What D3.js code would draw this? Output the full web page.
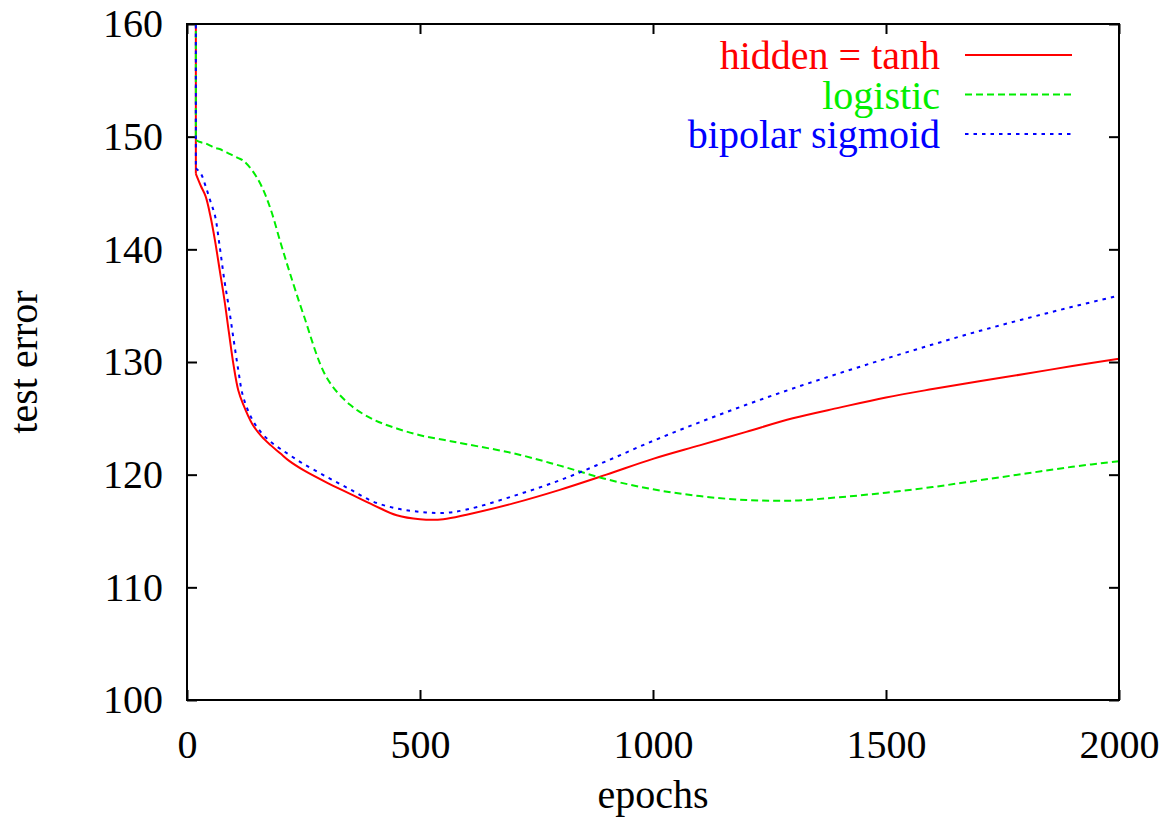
<!DOCTYPE html>
<html>
<head>
<meta charset="utf-8">
<script src="https://cdn.jsdelivr.net/npm/d3@7"></script>
<style>
  body { margin: 0; background: #fff; }
  text { font-family: "Liberation Serif", "Times New Roman", serif; }
</style>
</head>
<body>
<script>
// Data; the first point of each run is off the top of the chart
const epochs   = [19, 19, 30, 40, 50, 60, 70, 80, 90, 100, 110, 120, 140, 160, 180, 200, 220, 250, 300, 350, 400, 450, 500, 550, 600, 700, 800, 900, 1000, 1100, 1200, 1300, 1400, 1500, 1600, 1700, 1800, 1900, 2000];
const tanh     = [175, 146.7, 145.6, 144.7, 143.0, 140.8, 138.2, 135.6, 132.6, 129.7, 127.5, 126.3, 124.5, 123.4, 122.6, 121.9, 121.2, 120.4, 119.3, 118.3, 117.3, 116.4, 116.05, 116.05, 116.45, 117.45, 118.65, 120.0, 121.4, 122.6, 123.8, 125.0, 125.95, 126.85, 127.6, 128.3, 128.95, 129.65, 130.3];
const logistic = [175, 149.7, 149.5, 149.4, 149.2, 149.0, 148.9, 148.7, 148.5, 148.3, 148.1, 147.9, 147.0, 145.6, 143.5, 140.7, 138.0, 134.2, 128.6, 126.2, 124.9, 124.1, 123.5, 123.1, 122.7, 121.9, 120.8, 119.6, 118.7, 118.1, 117.75, 117.7, 118.0, 118.4, 118.9, 119.5, 120.1, 120.7, 121.2];
const bipolar  = [175, 147.2, 146.7, 145.6, 144.3, 143.0, 140.3, 137.3, 134.8, 132.0, 129.3, 127.0, 124.9, 123.7, 122.9, 122.3, 121.75, 120.95, 119.8, 118.7, 117.6, 117.0, 116.7, 116.6, 116.9, 118.1, 119.5, 121.2, 123.0, 124.65, 126.2, 127.65, 129.0, 130.3, 131.55, 132.75, 133.85, 134.9, 135.9];

const seriesNames  = ["hidden = tanh", "logistic", "bipolar sigmoid"];
const seriesColors = ["#ff0000", "#00ee00", "#0000ff"];
const seriesDash   = [null, "7,4", "3.5,5"];
const xTicks = [0, 500, 1000, 1500, 2000];
const yTicks = [100, 110, 120, 130, 140, 150, 160];

const W = 1172, H = 823;
const margin = {left: 187, top: 24, right: 53, bottom: 123};
const width = W - margin.left - margin.right;
const height = H - margin.top - margin.bottom;

const svg = d3.select("body").append("svg").attr("width", W).attr("height", H);
const g = svg.append("g").attr("transform", `translate(${margin.left},${margin.top})`);

// Scales
const x = d3.scaleLinear().domain([0, 2000]).range([0, width]);
const y = d3.scaleLinear().domain([100, 160]).range([height, 0]);

svg.append("defs").append("clipPath").attr("id", "clip")
   .append("rect").attr("width", width).attr("height", height);

// Axes (gnuplot style: inward ticks, mirrored)
const styleAxis = sel => {
  sel.select(".domain").remove();
  sel.selectAll(".tick line").attr("stroke", "#000").attr("stroke-width", 2);
  sel.selectAll(".tick text").attr("fill", "#000").style("font-size", "40px")
     .style("font-family", "'Liberation Serif', serif");
};

g.append("g").call(d3.axisLeft(y).tickValues(yTicks).tickSize(-10).tickPadding(24).tickFormat(d3.format("d"))).call(styleAxis);
g.append("g").attr("transform", `translate(${width},0)`)
 .call(d3.axisRight(y).tickValues(yTicks).tickSize(-10).tickFormat("")).call(styleAxis);
g.append("g").attr("transform", `translate(0,${height})`)
 .call(d3.axisBottom(x).tickValues(xTicks).tickSize(-10).tickPadding(30).tickFormat(d3.format("d"))).call(styleAxis);
g.append("g")
 .call(d3.axisTop(x).tickValues(xTicks).tickSize(-10).tickFormat("")).call(styleAxis);

// Lines: straight drop from the top, then a smooth curve
const series = [tanh, logistic, bipolar];
const straight = d3.line().x(d => x(d[0])).y(d => y(d[1]));
const smooth = d3.line().x(d => x(d[0])).y(d => y(d[1])).curve(d3.curveCatmullRom.alpha(0.5));
const pathFor = s => {
  const pts = epochs.map((e, i) => [e, s[i]]);
  return straight(pts.slice(0, 2)) + smooth(pts.slice(1));
};

g.append("g").attr("clip-path", "url(#clip)")
 .selectAll("path")
 .data(series)
 .join("path")
   .attr("d", pathFor)
   .attr("fill", "none")
   .attr("stroke", (d, i) => seriesColors[i])
   .attr("stroke-width", 2)
   .attr("stroke-dasharray", (d, i) => seriesDash[i]);

// Frame
g.append("rect").attr("width", width).attr("height", height)
 .attr("fill", "none").attr("stroke", "#000").attr("stroke-width", 2);

// Legend
const legend = g.append("g").selectAll("g")
  .data(seriesNames)
  .join("g")
  .attr("transform", (d, i) => `translate(0,${45 + i * 39.5})`);

legend.append("text")
  .attr("x", 940 - margin.left)
  .attr("text-anchor", "end")
  .attr("fill", (d, i) => seriesColors[i])
  .style("font-size", "40px")
  .text(d => d);

legend.append("line")
  .attr("x1", 965 - margin.left).attr("x2", 1072 - margin.left)
  .attr("y1", -14).attr("y2", -14)
  .attr("stroke", (d, i) => seriesColors[i])
  .attr("stroke-width", 2)
  .attr("stroke-dasharray", (d, i) => seriesDash[i]);

// Axis titles
svg.append("text")
  .attr("transform", "translate(37,362) rotate(-90)")
  .attr("text-anchor", "middle")
  .style("font-size", "40px")
  .text("test error");

svg.append("text")
  .attr("x", 653).attr("y", 808)
  .attr("text-anchor", "middle")
  .style("font-size", "40px")
  .text("epochs");
</script>
</body>
</html>
